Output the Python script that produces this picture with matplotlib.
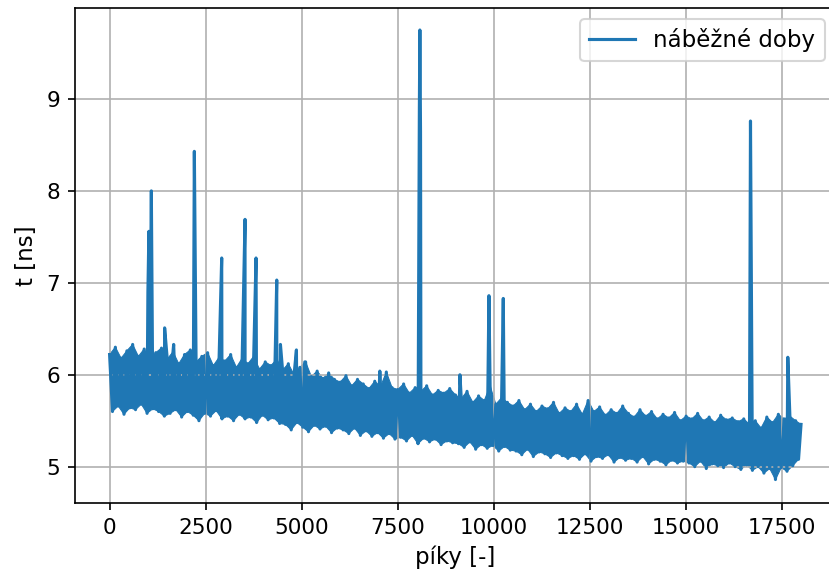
import numpy as np
import matplotlib
matplotlib.use('Agg')
import matplotlib.pyplot as plt

# band of rise times: local maxima / minima (every 150 peaks)
horni = [6.22, 6.30, 6.18, 6.26, 6.33, 6.20, 6.28, 6.15, 6.24, 6.29,
         6.17, 6.25, 6.12, 6.22, 6.27, 6.14, 6.20, 6.24, 6.10, 6.19,
         6.15, 6.22, 6.08, 6.18, 6.12, 6.20, 6.06, 6.14, 6.10, 6.17,
         6.05, 6.12, 6.00, 6.08, 6.14, 5.98, 6.04, 5.96, 6.02, 5.95,
         5.92, 5.99, 5.88, 5.95, 5.90, 5.85, 5.93, 5.87, 6.03, 5.86,
         5.84, 5.90, 5.80, 5.86, 5.82, 5.88, 5.78, 5.83, 5.80, 5.85,
         5.78, 5.74, 5.82, 5.70, 5.77, 5.72, 5.88, 5.68, 5.75, 5.70,
         5.66, 5.72, 5.62, 5.68, 5.60, 5.66, 5.63, 5.70, 5.58, 5.64,
         5.60, 5.68, 5.57, 5.72, 5.60, 5.65, 5.56, 5.62, 5.58, 5.66,
         5.58, 5.54, 5.62, 5.55, 5.60, 5.52, 5.57, 5.53, 5.59, 5.50,
         5.55, 5.52, 5.58, 5.50, 5.54, 5.48, 5.56, 5.51, 5.53, 5.49,
         5.52, 5.46, 5.50, 5.42, 5.54, 5.48, 5.57, 5.52, 5.55, 5.50, 5.46]
dolni = [5.60, 5.66, 5.57, 5.64, 5.62, 5.68, 5.58, 5.63, 5.60, 5.55,
         5.58, 5.62, 5.54, 5.60, 5.56, 5.50, 5.58, 5.55, 5.61, 5.52,
         5.55, 5.50, 5.57, 5.52, 5.54, 5.48, 5.56, 5.51, 5.53, 5.47,
         5.46, 5.40, 5.48, 5.43, 5.38, 5.45, 5.41, 5.44, 5.37, 5.42,
         5.40, 5.36, 5.42, 5.34, 5.39, 5.33, 5.37, 5.31, 5.36, 5.30,
         5.32, 5.28, 5.34, 5.25, 5.31, 5.27, 5.30, 5.24, 5.28, 5.26,
         5.25, 5.21, 5.27, 5.19, 5.24, 5.20, 5.23, 5.17, 5.22, 5.18,
         5.17, 5.13, 5.19, 5.11, 5.16, 5.14, 5.10, 5.15, 5.12, 5.09,
         5.12, 5.08, 5.14, 5.06, 5.11, 5.09, 5.13, 5.05, 5.10, 5.07,
         5.09, 5.05, 5.11, 5.03, 5.08, 5.06, 5.02, 5.07, 5.04, 5.06,
         5.04, 5.00, 5.06, 4.98, 5.03, 5.01, 4.99, 5.04, 5.00, 4.97,
         5.02, 4.96, 5.00, 4.93, 4.98, 4.86, 4.99, 4.95, 5.01, 5.08]

# isolated spikes (peak index, rise time)
spicky_x = [997, 1023, 1086, 1432, 1667, 2205, 2917, 3524, 3810, 4349, 4445,
            4861, 5078, 7031, 8060, 8073, 8090, 9115, 9870, 10243, 16675, 17646]
spicky_t = [6.90, 7.56, 8.00, 6.51, 6.33, 8.43, 7.27, 7.69, 7.27, 7.03, 6.33,
            6.27, 6.14, 6.04, 8.90, 9.75, 8.64, 6.00, 6.86, 6.83, 8.76, 6.19]

krok = 150
x_h = np.arange(len(horni)) * krok
x_h[-1] = 17990
x_d = np.arange(len(dolni)) * krok + krok // 2
x = np.concatenate([x_h, x_d, spicky_x])
t = np.concatenate([horni, dolni, spicky_t])
poradi = np.argsort(x, kind='stable')
x, t = x[poradi], t[poradi]

barva = '#1f77b4'
fig = plt.figure(figsize=(829 / 150, 577 / 150), dpi=150)
ax = fig.add_axes([75 / 829, 74 / 577, 761 / 829, 495.5 / 577])
# the 18000 samples are so dense that the line fills the band between extremes
ax.fill(np.concatenate([x_h, x_d[::-1]]), np.concatenate([horni, dolni[::-1]]),
        color=barva, linewidth=0.5)
ax.plot(x, t, color=barva, linewidth=1.5, label='náběžné doby')
ax.set_xlim(-900, 18900)
ax.set_ylim(4.605, 9.995)
ax.set_xticks([0, 2500, 5000, 7500, 10000, 12500, 15000, 17500])
ax.set_yticks([5, 6, 7, 8, 9])
ax.tick_params(labelsize=10.3)
ax.set_xlabel('píky [-]', fontsize=11)
ax.set_ylabel('t [ns]', fontsize=11)
ax.grid(True)
ax.legend(loc='upper right', fontsize=11)
fig.savefig('out.png', dpi=150)
